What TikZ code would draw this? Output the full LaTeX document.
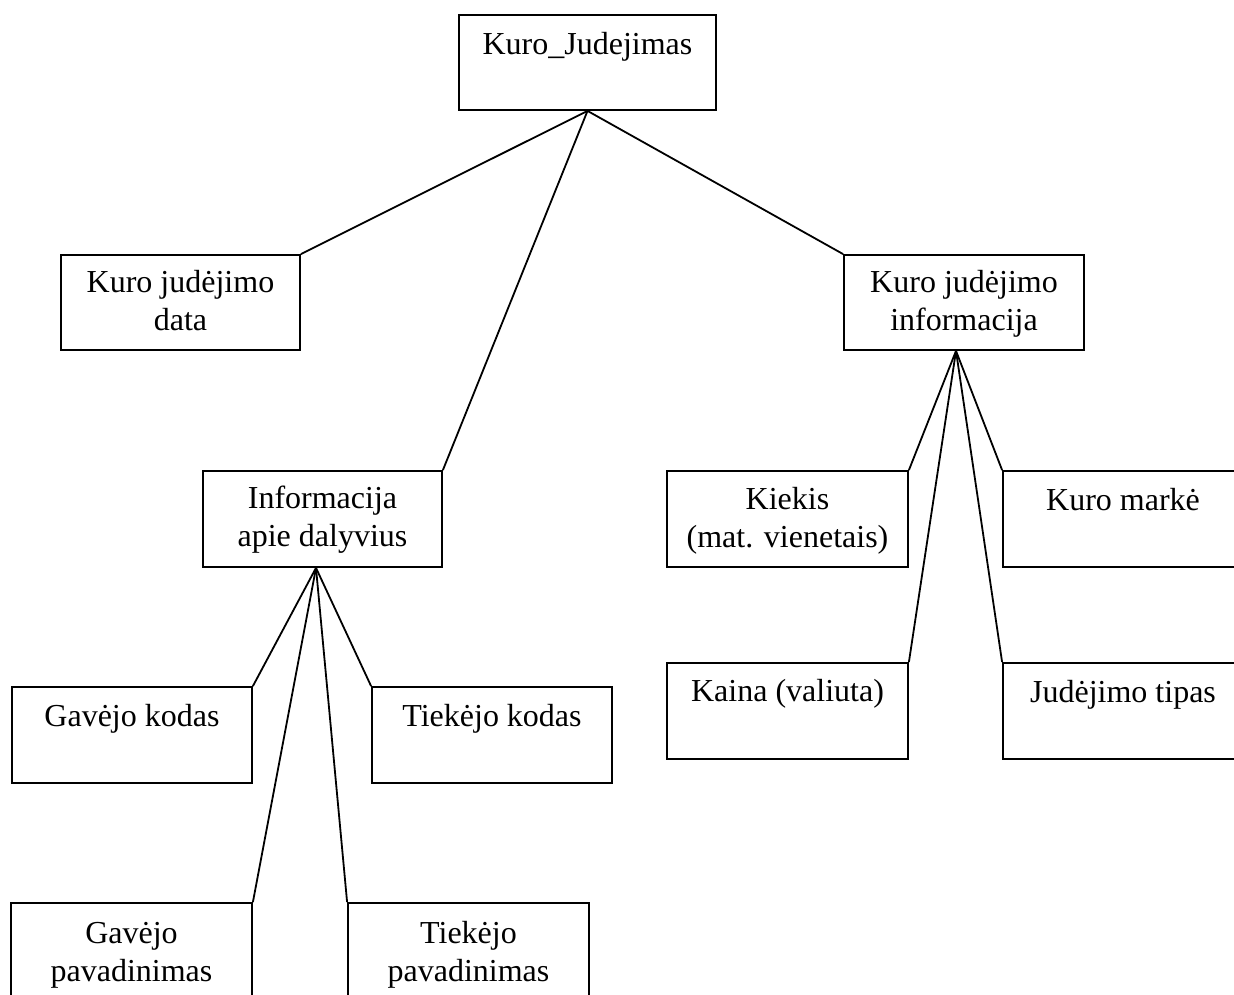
\documentclass[tikz,border=0pt]{standalone}
\usepackage{fontspec}
\setmainfont{Liberation Serif}
\begin{document}
\begin{tikzpicture}[x=1pt,y=-1pt,
  box/.style={draw=black,line width=1.8pt,fill=none,inner sep=0pt,minimum height=96pt,minimum width=240pt},
  lbl/.style={anchor=base,align=center,inner sep=0pt,font=\fontsize{32}{38}\selectfont},
  conn/.style={draw=black,line width=1.8pt}]
\useasboundingbox (0,0) rectangle (1234,995);
\clip (0,0) rectangle (1234,995);
\fill[white] (0,0) rectangle (1234,995);
% boxes
\node[box,minimum width=257pt,minimum height=95pt] (root) at (587.5,62.5) {};
\node[box,minimum width=239pt,minimum height=95pt] (data) at (180.5,302.5) {};
\node[box,minimum height=95pt] (info) at (964,302.5) {};
\node[box,minimum width=239pt] (dal) at (322.5,519) {};
\node[box,minimum width=241pt] (kiekis) at (787.5,519) {};
\node[box,minimum width=241pt] (kaina) at (787.5,711) {};
\node[box] (marke) at (1123,519) {};
\node[box] (tipas) at (1123,711) {};
\node[box] (gkod) at (132,735) {};
\node[box] (tkod) at (492,735) {};
\node[box,minimum width=241pt] (gpav) at (131.5,951) {};
\node[box,minimum width=241pt] (tpav) at (468.5,951) {};
% texts (base anchor = baseline of last line)
\node[lbl] (rootT) at ([yshift=-40pt]root.north) {Kuro\_Judejimas};
\node[lbl] (dataT) at ([yshift=-76pt]data.north) {Kuro judėjimo\\data};
\node[lbl] (infoT) at ([yshift=-76pt]info.north) {Kuro judėjimo\\informacija};
\node[lbl] (dalT) at ([yshift=-76pt]dal.north) {Informacija\\apie dalyvius};
\node[lbl] (kiekisT) at ([yshift=-77pt]kiekis.north) {Kiekis\\(mat. vienetais)};
\node[lbl] (kainaT) at ([yshift=-39pt]kaina.north) {Kaina (valiuta)};
\node[lbl] (markeT) at ([yshift=-40pt]marke.north) {Kuro markė};
\node[lbl] (tipasT) at ([yshift=-40pt]tipas.north) {Judėjimo tipas};
\node[lbl] (gkodT) at ([yshift=-40pt]gkod.north) {Gavėjo kodas};
\node[lbl] (tkodT) at ([yshift=-40pt]tkod.north) {Tiekėjo kodas};
\node[lbl] (gpavT) at ([yshift=-79pt]gpav.north) {Gavėjo\\pavadinimas};
\node[lbl] (tpavT) at ([yshift=-79pt]tpav.north) {Tiekėjo\\pavadinimas};
% apex points
\coordinate (rootA) at (root.south);
\coordinate (dalA) at ([xshift=-6.5pt]dal.south);
\coordinate (infoA) at ([xshift=-8pt]info.south);
% connectors
\draw[conn] (rootA) -- (data.north east);
\draw[conn] (rootA) -- (info.north west);
\draw[conn] (rootA) -- (dal.north east);
\draw[conn] (dalA) -- (gkod.north east);
\draw[conn] (dalA) -- (tkod.north west);
\draw[conn] (dalA) -- (gpav.north east);
\draw[conn] (dalA) -- (tpav.north west);
\draw[conn] (infoA) -- (kiekis.north east);
\draw[conn] (infoA) -- (kaina.north east);
\draw[conn] (infoA) -- (marke.north west);
\draw[conn] (infoA) -- (tipas.north west);
\end{tikzpicture}
\end{document}
